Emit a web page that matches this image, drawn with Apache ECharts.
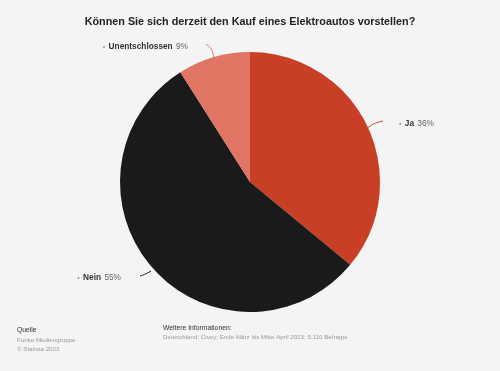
<!DOCTYPE html>
<html>
<head>
<meta charset="utf-8">
<script src="https://cdn.jsdelivr.net/npm/echarts@6/dist/echarts.min.js"></script>
<style>
html,body{margin:0;padding:0;background:#f4f4f4;}
#c{width:500px;height:371px;}
</style>
</head>
<body>
<div id="c"></div>
<script>
var categories = ['Ja', 'Nein', 'Unentschlossen'];
var values = [36, 55, 9];
var colors = ['#c93f26', '#1a1a1a', '#e07563'];

var chart = echarts.init(document.getElementById('c'), null, {renderer: 'canvas'});
var data = categories.map(function (c, i) {
  return {name: c, value: values[i], itemStyle: {color: colors[i]}, labelLine: {lineStyle: {color: colors[i]}}};
});
var labelPos = [
  {x: 399, y: 124, align: 'left', pts: [[367, 128], [375, 123], [383, 121]]},
  {x: 121, y: 278, align: 'right', pts: [[151, 271], [146, 274], [140, 276]]},
  {x: 188, y: 47, align: 'right', pts: [[214, 58], [212, 49], [206, 44]]}
];
var F = 'Liberation Sans, Arial, sans-serif';
chart.setOption({
  backgroundColor: '#f4f4f4',
  animation: false,
  title: {
    text: 'Können Sie sich derzeit den Kauf eines Elektroautos vorstellen?',
    left: 'center', top: 12,
    textStyle: {fontFamily: F, fontSize: 10.8, fontWeight: 'bold', color: '#222'}
  },
  graphic: [
    {type: 'text', left: 17, top: 327, style: {text: 'Quelle', font: '6.8px ' + F, fill: '#333'}},
    {type: 'text', left: 17, top: 336, style: {text: 'Funke Mediengruppe\n© Statista 2023', font: '6.2px ' + F, fill: '#999', lineHeight: 9}},
    {type: 'text', left: 163, top: 325, style: {text: 'Weitere Informationen:', font: '6.8px ' + F, fill: '#333'}},
    {type: 'text', left: 163, top: 334, style: {text: 'Deutschland; Civey; Ende März bis Mitte April 2023; 5.110 Befragte', font: '6.2px ' + F, fill: '#999'}}
  ],
  series: [{
    type: 'pie',
    center: [250, 182],
    radius: [0, 130],
    startAngle: 90,
    clockwise: true,
    data: data,
    label: {
      show: true,
      formatter: function (p) { return '{d|•} {b|' + p.name + '} {v|' + p.value + '%}'; },
      rich: {
        d: {fontFamily: F, fontSize: 7, color: '#999'},
        b: {fontFamily: F, fontSize: 8.3, fontWeight: 'bold', color: '#333'},
        v: {fontFamily: F, fontSize: 8.3, color: '#666'}
      }
    },
    labelLine: {show: true, smooth: 0.3, lineStyle: {width: 1}},
    labelLayout: function (p) {
      var L = labelPos[p.dataIndex];
      return {x: L.x, y: L.y, align: L.align, verticalAlign: 'middle', labelLinePoints: L.pts};
    },
    emphasis: {disabled: true}
  }]
});
</script>
</body>
</html>
